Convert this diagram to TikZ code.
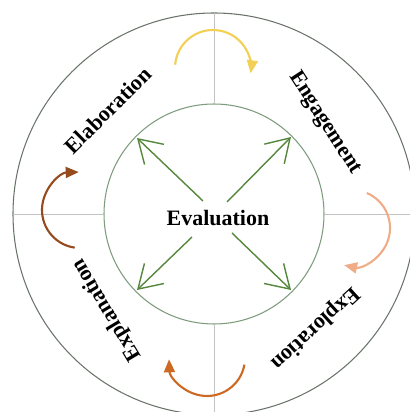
\documentclass[tikz,border=0pt]{standalone}
\usepackage{fontspec}
\setmainfont{Liberation Serif}
\usetikzlibrary{arrows.meta}

\definecolor{ringgray}{RGB}{105,115,105}
\definecolor{innergreen}{RGB}{125,155,125}
\definecolor{divgray}{RGB}{195,195,195}
\definecolor{evalgreen}{RGB}{85,135,60}
\definecolor{arcyellow}{RGB}{242,208,85}
\definecolor{arcpeach}{RGB}{240,172,135}
\definecolor{arcorange}{RGB}{205,105,35}
\definecolor{arcbrown}{RGB}{150,75,30}

\tikzset{
  stagelabel/.style={font=\fontsize{12.5}{14}\selectfont\bfseries, inner sep=0pt},
  cyclearrow/.style={line width=1.2pt, -{Triangle[length=2.6mm,width=2.2mm]}},
  evalarrow/.style={evalgreen, line width=0.8pt, -{Straight Barb[length=4.5mm,width=5.6mm]}}
}

\begin{document}
\begin{tikzpicture}[scale=1.0]
    \useasboundingbox (-4.28,-3.96) rectangle (3.90,4.28);

    % rings
    \draw[ringgray, line width=0.6pt] (0,0) circle (4.02);
    \draw[innergreen, line width=0.6pt] (0,0) circle (2.2);

    % dividers
    \draw[divgray, line width=0.5pt] (0,2.2) -- (0,4.02);
    \draw[divgray, line width=0.5pt] (0,-2.2) -- (0,-4.02);
    \draw[divgray, line width=0.5pt] (2.2,0) -- (4.02,0);
    \draw[divgray, line width=0.5pt] (-2.2,0) -- (-4.02,0);

    % centre
    \node[stagelabel] (eval) at (0.08,-0.08) {Evaluation};

    % arrows from evaluation
    \coordinate (ulstart) at (-0.22,0.26);
    \coordinate (urstart) at (0.26,0.24);
    \coordinate (llstart) at (-0.44,-0.46);
    \coordinate (lrstart) at (0.36,-0.38);
    \coordinate (ultip) at (-1.54,1.52);
    \coordinate (urtip) at (1.54,1.54);
    \coordinate (lltip) at (-1.54,-1.52);
    \coordinate (lrtip) at (1.54,-1.52);
    \draw[evalarrow] (ulstart) -- (ultip);
    \draw[evalarrow] (urstart) -- (urtip);
    \draw[evalarrow] (llstart) -- (lltip);
    \draw[evalarrow] (lrstart) -- (lrtip);

    % stages
    \node[stagelabel, rotate=45] (elab) at (-2.12,2.08) {Elaboration};
    \node[stagelabel, rotate=-57] (engage) at (2.22,1.82) {Engagement};
    \node[stagelabel, rotate=-137.5] (explore) at (2.02,-2.28) {Exploration};
    \node[stagelabel, rotate=121] (explain) at (-2.14,-1.92) {Explanation};

    % cycle arrows
    \draw[cyclearrow, arcyellow] ([shift={(175:0.76)}]-0.02,2.92) arc[start angle=175, end angle=-8, radius=0.76];
    \draw[cyclearrow, arcpeach] ([shift={(67:0.76)}]2.76,-0.28) arc[start angle=67, end angle=-102, radius=0.76];
    \draw[cyclearrow, arcorange] ([shift={(-10:0.76)}]-0.14,-2.88) arc[start angle=-10, end angle=-178, radius=0.76];
    \draw[cyclearrow, arcbrown] ([shift={(262:0.76)}]-2.68,0.08) arc[start angle=262, end angle=92, radius=0.76];
\end{tikzpicture}
\end{document}
